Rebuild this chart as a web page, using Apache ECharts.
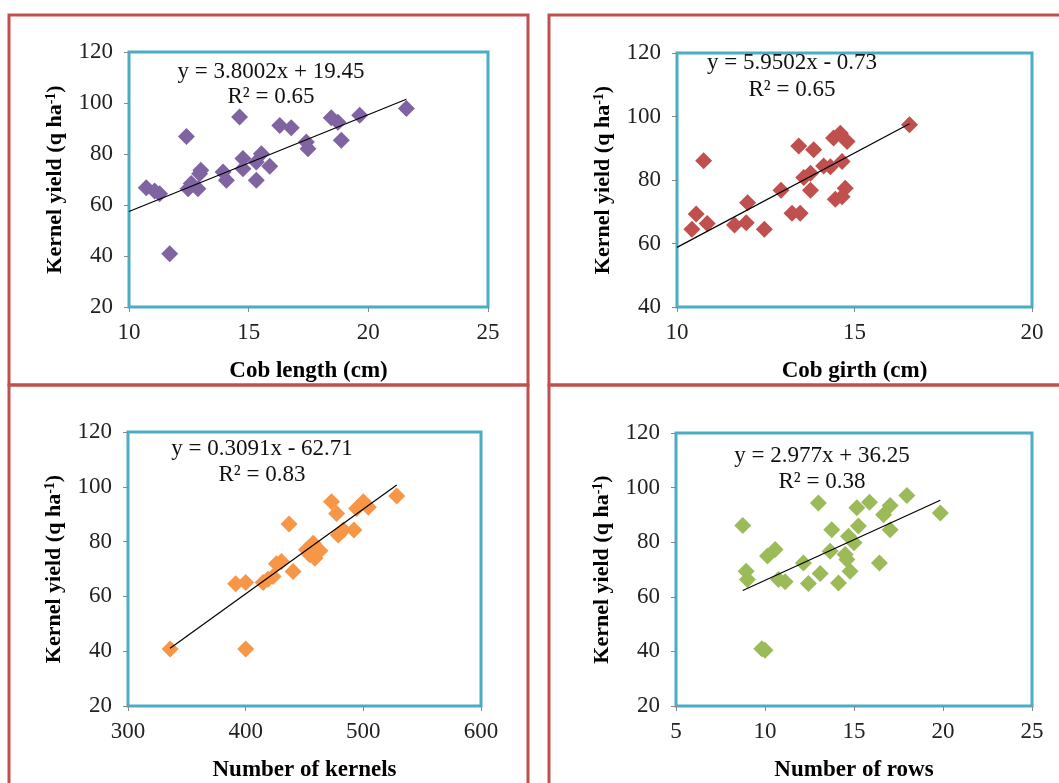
<!DOCTYPE html>
<html>
<head>
<meta charset="utf-8">
<script src="https://cdn.jsdelivr.net/npm/echarts@6/dist/echarts.min.js"></script>
<style>
html,body{margin:0;padding:0;background:#fff;}
#c{width:1059px;height:783px;}
</style>
</head>
<body>
<div id="c"></div>
<script>
// ---- Data ----
const lenX = [10.72,11.07,11.28,11.70,12.40,12.47,12.60,12.88,12.95,13.00,13.93,14.07,14.62,14.76,14.76,15.32,15.32,15.53,15.88,16.30,16.78,17.41,17.48,18.45,18.73,18.87,19.64,21.59];
const lenY = [66.8,65.5,64.4,40.9,86.9,66.4,68.4,66.4,72.3,73.6,72.9,69.7,94.5,78.2,74.2,76.9,69.7,80.1,75.2,91.2,90.3,84.7,82.1,94.2,92.5,85.4,95.2,97.8];

const girthX = [10.42,10.54,10.75,10.85,11.62,11.95,11.99,12.46,12.93,13.24,13.47,13.43,13.85,13.57,13.76,13.76,14.13,14.32,14.41,14.60,14.65,14.46,14.65,14.74,14.79,16.55];
const girthY = [64.5,69.3,86.1,66.3,65.8,66.5,72.8,64.5,76.8,69.5,69.5,90.7,89.5,80.8,82.1,76.8,84.4,84.2,93.2,94.7,85.8,73.9,74.7,77.4,92.1,97.4];

const kernX = [335.8,400.0,391.5,400.0,414.8,419.0,423.3,426.1,430.4,436.9,440.3,451.7,454.5,457.4,458.8,463.1,473.0,477.3,478.7,483.0,492.0,494.3,500.0,504.3,528.4];
const kernY = [40.8,40.8,64.6,65.1,65.1,66.3,67.3,71.9,72.7,86.4,69.1,77.0,75.2,79.4,73.9,76.7,94.5,90.3,82.4,84.2,84.2,92.1,94.5,92.5,96.6];

const rowsX = [8.75,8.94,9.01,9.82,10.00,10.14,10.57,10.76,11.13,12.16,12.44,13.00,13.10,13.75,13.66,14.13,14.50,14.60,14.69,14.78,15.00,15.16,15.25,15.87,16.43,16.66,17.03,17.03,17.97,19.85];
const rowsY = [86.1,69.4,66.3,41.0,40.4,74.9,77.3,66.3,65.5,72.4,64.9,94.4,68.5,84.6,76.7,65.1,75.5,73.7,82.2,69.4,79.8,92.6,85.9,94.6,72.4,90.1,93.4,84.6,97.1,90.7];

// trend-line equations and ranges (as shown on the chart)
const slopes = [3.8002, 5.9502, 0.3091, 2.977];
const intercepts = [19.45, -0.73, -62.71, 36.25];
const trendFrom = [10, 10, 335.8, 8.75];
const trendTo = [21.59, 16.55, 528.4, 19.85];
const eqTexts = ['y = 3.8002x + 19.45', 'y = 5.9502x - 0.73', 'y = 0.3091x - 62.71', 'y = 2.977x + 36.25'];
const r2Texts = ['R² = 0.65', 'R² = 0.65', 'R² = 0.83', 'R² = 0.38'];

const xNames = ['Cob length (cm)', 'Cob girth (cm)', 'Number of kernels', 'Number of rows'];
const xMin = [10, 10, 300, 5];
const xMax = [25, 20, 600, 25];
const xInt = [5, 5, 100, 5];
const yMin = [20, 40, 20, 20];
const yMax = [120, 120, 120, 120];
const yInt = [20, 20, 20, 20];
const colors = ['#8064a2', '#c0504d', '#f79646', '#9bbb59'];

// ---- Layout ----
const FONT = "'Liberation Serif','Times New Roman',serif";
const grids = [
  {left:129, top:52, width:359, height:255},
  {left:677, top:53, width:355, height:254},
  {left:128, top:432, width:353, height:275},
  {left:676, top:433, width:356, height:274}
];
const eqPos = [[271,72,97],[792,63,90],[262,449,475],[822,456,482]];

const xs = [lenX, girthX, kernX, rowsX];
const ys = [lenY, girthY, kernY, rowsY];

const option = {
  animation:false,
  backgroundColor:'#fff',
  grid: grids.map(g => Object.assign({show:true, borderColor:'#4bacc6', borderWidth:3, backgroundColor:'#fff', containLabel:false}, g)),
  xAxis: grids.map((g,i) => ({
    gridIndex:i, type:'value', min:xMin[i], max:xMax[i], interval:xInt[i],
    name:xNames[i], nameLocation:'middle', nameGap:53,
    nameTextStyle:{fontFamily:FONT, fontWeight:'bold', fontSize:23, color:'#000'},
    axisLine:{show:false}, splitLine:{show:false},
    axisTick:{show:true, length:5, lineStyle:{color:'#888'}},
    axisLabel:{fontFamily:FONT, fontSize:23, color:'#222', margin:14}
  })),
  yAxis: grids.map((g,i) => ({
    gridIndex:i, type:'value', min:yMin[i], max:yMax[i], interval:yInt[i],
    name:'Kernel yield (q ha{sup|-1})', nameLocation:'middle', nameGap:63, nameRotate:90,
    nameTextStyle:{fontFamily:FONT, fontWeight:'bold', fontSize:22, color:'#000',
      rich:{sup:{fontFamily:FONT, fontWeight:'bold', fontSize:14, color:'#000', verticalAlign:'top', padding:[0,0,8,0]}}},
    axisLine:{show:false}, splitLine:{show:false},
    axisTick:{show:true, length:5, lineStyle:{color:'#888'}},
    axisLabel:{fontFamily:FONT, fontSize:23, color:'#222', margin:16}
  })),
  series: [],
  graphic: []
};

for (let i = 0; i < 4; i++) {
  option.series.push({
    type:'scatter', xAxisIndex:i, yAxisIndex:i, symbol:'diamond', symbolSize:17, z:2,
    itemStyle:{color:colors[i], opacity:1},
    data: xs[i].map((x,k) => [x, ys[i][k]])
  });
  option.series.push({
    type:'line', xAxisIndex:i, yAxisIndex:i, showSymbol:false, symbol:'none', z:3,
    lineStyle:{color:'#000', width:1.2}, silent:true,
    data: [[trendFrom[i], slopes[i]*trendFrom[i]+intercepts[i]], [trendTo[i], slopes[i]*trendTo[i]+intercepts[i]]]
  });
  option.graphic.push({type:'text', x:eqPos[i][0], y:eqPos[i][1], z:10,
    style:{text:eqTexts[i], font:'23px '+FONT, fill:'#111', align:'center', verticalAlign:'middle'}});
  option.graphic.push({type:'text', x:eqPos[i][0], y:eqPos[i][2], z:10,
    style:{text:r2Texts[i], font:'23px '+FONT, fill:'#111', align:'center', verticalAlign:'middle'}});
}

// red panel frames
const panels = [[9,15,519,370],[549,15,530,370],[9,385,519,420],[549,385,530,420]];
panels.forEach(p => option.graphic.push({type:'rect', z:-10, silent:true,
  shape:{x:p[0], y:p[1], width:p[2], height:p[3]},
  style:{fill:null, stroke:'#c0504d', lineWidth:3}}));

const chart = echarts.init(document.getElementById('c'), null, {renderer:'canvas'});
chart.setOption(option);
</script>
</body>
</html>
